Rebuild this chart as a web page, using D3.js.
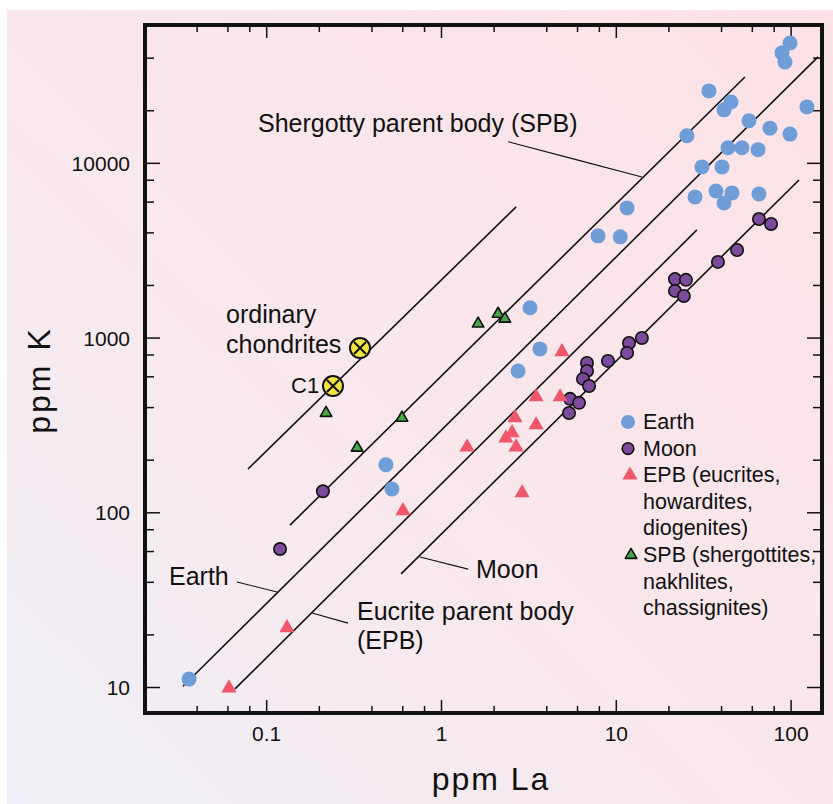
<!DOCTYPE html>
<html>
<head>
<meta charset="utf-8">
<script src="https://cdn.jsdelivr.net/npm/d3@7/dist/d3.min.js"></script>
<style>
  html, body { margin: 0; padding: 0; background: #ffffff; }
  svg { display: block; }
  text { font-family: "Liberation Sans", Arial, Helvetica, sans-serif; fill: #111; }
</style>
</head>
<body>
<svg id="chart" width="833" height="804"></svg>
<script>
// K versus La abundances (ppm) for planetary materials, log–log.

// Axis ticks
const xMajorTicks = [0.1, 1, 10, 100];
const xMajorLabels = ["0.1", "1", "10", "100"];
const xMinorTicks = [0.04, 0.06, 0.08, 0.2, 0.4, 0.6, 0.8, 2, 4, 6, 8, 20, 40, 60, 80];
const yMajorTicks = [10, 100, 1000, 10000];
const yMajorLabels = ["10", "100", "1000", "10000"];
const yMinorTicks = [20, 40, 60, 80, 200, 400, 600, 800, 2000, 4000, 6000, 8000, 20000, 40000];

// [La, K] pairs
const earth = [
  [99.2, 48500], [89.3, 42600], [92.9, 37800], [34.1, 25800], [45.6, 22300],
  [41.6, 20100], [124, 20900], [25.5, 14300], [57.8, 17400], [76.2, 15800],
  [99.2, 14600], [43.8, 12200], [52.7, 12200], [65.1, 11900], [31.1, 9480],
  [40.5, 9480], [28.4, 6380], [37.4, 6900], [46.2, 6730], [41.6, 5890],
  [65.9, 6640], [11.6, 5520], [7.91, 3820], [10.6, 3770], [3.23, 1480],
  [3.68, 861], [2.76, 644], [0.484, 187], [0.524, 136], [0.0362, 11.1]
];
const moon = [
  [65.9, 4770], [77.3, 4470], [49.4, 3170], [38.4, 2710], [21.8, 2160],
  [25.2, 2140], [21.8, 1850], [24.5, 1730], [14.1, 995], [11.9, 931],
  [11.6, 817], [9.02, 735], [6.84, 716], [6.84, 644], [6.49, 580],
  [7.03, 528], [5.47, 446], [6.16, 423], [5.40, 370], [0.211, 132], [0.120, 61.6]
];
const epb = [
  [4.92, 828], [3.50, 457], [4.80, 457], [2.65, 347], [3.50, 316],
  [2.55, 285], [2.35, 266], [2.69, 236], [1.41, 236], [2.91, 129],
  [0.606, 102], [0.1315, 21.8], [0.0612, 9.87]
];
const spb = [
  [1.63, 1200], [2.12, 1365], [2.32, 1280], [0.22, 370], [0.598, 347], [0.331, 234]
];
const chondrites = [[0.344, 871], [0.241, 528]];

// Constant K/La trend lines, end points as [La, K]
const chondriteLine = [[0.0787, 177], [2.69, 5600]];
const spbLine = [[0.1368, 84.5], [54.8, 31000]];
const earthLine = [[0.0334, 10.1], [143.5, 40400]];
const epbLine = [[0.0663, 9.75], [29.1, 4130]];
const moonLine = [[0.591, 44.4], [111.7, 7980]];

// Label leader lines, as [La, K]
const spbLeader = [[2.42, 13200], [6.0, 10400], [14.1, 8300]];
const earthLeader = [[0.068, 39.9], [0.1153, 35.0]];
const epbLeader = [[0.183, 26.5], [0.294, 23.2]];
const moonLeader = [[0.758, 55.5], [1.43, 47.3]];

const frame = { left: 145, right: 822, top: 25, bottom: 713 };

const svg = d3.select("#chart");

// Soft pink page background
const defs = svg.append("defs");
const grad = defs.append("linearGradient")
  .attr("id", "bg").attr("x1", "1").attr("y1", "0").attr("x2", "0").attr("y2", "1");
grad.append("stop").attr("offset", "0").attr("stop-color", "#fde2e7");
grad.append("stop").attr("offset", "0.55").attr("stop-color", "#f9e8ed");
grad.append("stop").attr("offset", "1").attr("stop-color", "#eff0f7");
svg.append("rect").attr("x", 7).attr("y", 10).attr("width", 826).attr("height", 794)
  .attr("fill", "url(#bg)");

const x = d3.scaleLog().domain([0.02026, 151.2]).range([frame.left, frame.right]);
const y = d3.scaleLog().domain([7.1, 61500]).range([frame.bottom, frame.top]);

const C = {
  earth: "#6e9dd7",
  moon: "#7b4a9b",
  epb: "#f0576b",
  spb: "#45aa45",
  chond: "#f2e43c",
  ink: "#111111"
};

// Ticks on all four sides, pointing inward
function ticks(axisFn, values, size, transform, labels) {
  const a = axisFn.tickValues(values).tickSize(size).tickSizeOuter(0)
    .tickFormat(labels ? (d, i) => labels[i] : "");
  const g = svg.append("g").attr("transform", transform).call(a);
  g.select(".domain").remove();
  g.selectAll(".tick line").attr("stroke", C.ink).attr("stroke-width", 1.5);
  return g;
}
ticks(d3.axisBottom(x), xMinorTicks, -7, `translate(0,${frame.bottom})`);
const xb = ticks(d3.axisBottom(x), xMajorTicks, -13, `translate(0,${frame.bottom})`, xMajorLabels);
xb.selectAll(".tick text").attr("y", 13).attr("dy", "0.71em")
  .style("font-size", "21px").style("font-family", '"Liberation Sans", Arial, sans-serif').attr("fill", C.ink);
ticks(d3.axisTop(x), xMinorTicks, -7, `translate(0,${frame.top})`);
ticks(d3.axisTop(x), xMajorTicks, -13, `translate(0,${frame.top})`);

ticks(d3.axisLeft(y), yMinorTicks, -9, `translate(${frame.left},0)`);
const yl = ticks(d3.axisLeft(y), yMajorTicks, -15, `translate(${frame.left},0)`, yMajorLabels);
yl.selectAll(".tick text").attr("x", -15).attr("dy", "0.36em")
  .style("font-size", "21px").style("font-family", '"Liberation Sans", Arial, sans-serif').attr("fill", C.ink);
ticks(d3.axisRight(y), yMinorTicks, -9, `translate(${frame.right},0)`);
ticks(d3.axisRight(y), yMajorTicks, -15, `translate(${frame.right},0)`);

// Trend lines
const line = d3.line().x(d => x(d[0])).y(d => y(d[1]));
const plot = svg.append("g");
[chondriteLine, spbLine, earthLine, epbLine, moonLine].forEach(l => {
  plot.append("path").attr("d", line(l)).attr("fill", "none")
    .attr("stroke", C.ink).attr("stroke-width", 1.6);
});
[spbLeader, earthLeader, epbLeader, moonLeader].forEach(l => {
  plot.append("path").attr("d", line(l)).attr("fill", "none")
    .attr("stroke", C.ink).attr("stroke-width", 1.1);
});

// Points
plot.selectAll(".earth").data(earth).join("circle")
  .attr("cx", d => x(d[0])).attr("cy", d => y(d[1])).attr("r", 7.5)
  .attr("fill", C.earth);
plot.selectAll(".moon").data(moon).join("circle")
  .attr("cx", d => x(d[0])).attr("cy", d => y(d[1])).attr("r", 6.2)
  .attr("fill", C.moon).attr("stroke", C.ink).attr("stroke-width", 1.6);

const triBig = d3.symbol(d3.symbolTriangle).size(100);
const triSmall = d3.symbol(d3.symbolTriangle).size(58);
plot.selectAll(".epb").data(epb).join("path")
  .attr("transform", d => `translate(${x(d[0])},${y(d[1])})`)
  .attr("d", triBig).attr("fill", C.epb);
plot.selectAll(".spb").data(spb).join("path")
  .attr("transform", d => `translate(${x(d[0])},${y(d[1])})`)
  .attr("d", triSmall).attr("fill", C.spb).attr("stroke", C.ink).attr("stroke-width", 1.6)
  .attr("stroke-linejoin", "round");

const ch = plot.selectAll(".chond").data(chondrites).join("g")
  .attr("transform", d => `translate(${x(d[0])},${y(d[1])})`);
ch.append("circle").attr("r", 10).attr("fill", C.chond)
  .attr("stroke", C.ink).attr("stroke-width", 2);
ch.append("path").attr("d", "M-6,-6L6,6M-6,6L6,-6")
  .attr("stroke", C.ink).attr("stroke-width", 2);

// Frame
svg.append("rect")
  .attr("x", frame.left).attr("y", frame.top)
  .attr("width", frame.right - frame.left).attr("height", frame.bottom - frame.top)
  .attr("fill", "none").attr("stroke", C.ink).attr("stroke-width", 4);

// Annotations
const ann = svg.append("g").style("font-size", "25px");
function label(txt, px, py, size) {
  const t = ann.append("text").attr("x", px).attr("y", py).text(txt);
  if (size) t.style("font-size", size + "px");
  return t;
}
label("Shergotty parent body (SPB)", 258, 132);
label("ordinary", 226, 323);
label("chondrites", 226, 353);
label("C1", 291, 393, 22);
label("Earth", 169, 585);
label("Eucrite parent body", 357, 620);
label("(EPB)", 357, 649);
label("Moon", 476, 578);

// Legend
const lg = svg.append("g").style("font-size", "21.5px");
const legendRows = [
  { kind: "earth", lines: ["Earth"] },
  { kind: "moon", lines: ["Moon"] },
  { kind: "epb", lines: ["EPB (eucrites,", "howardites,", "diogenites)"] },
  { kind: "spb", lines: ["SPB (shergottites,", "nakhlites,", "chassignites)"] }
];
let ly = 429;
const step = 26.6;
legendRows.forEach(r => {
  const cy = ly - 7;
  if (r.kind === "earth") lg.append("circle").attr("cx", 628).attr("cy", cy).attr("r", 7).attr("fill", C.earth);
  if (r.kind === "moon") lg.append("circle").attr("cx", 628).attr("cy", cy).attr("r", 5.8)
    .attr("fill", C.moon).attr("stroke", C.ink).attr("stroke-width", 1.6);
  if (r.kind === "epb") lg.append("path").attr("transform", `translate(630,${cy})`).attr("d", triBig).attr("fill", C.epb);
  if (r.kind === "spb") lg.append("path").attr("transform", `translate(631,${cy})`).attr("d", triSmall)
    .attr("fill", C.spb).attr("stroke", C.ink).attr("stroke-width", 1.6).attr("stroke-linejoin", "round");
  r.lines.forEach((t, i) => {
    lg.append("text").attr("x", 643).attr("y", ly + i * step).text(t);
  });
  ly += r.lines.length * step;
});

// Axis titles
svg.append("text").attr("x", 491).attr("y", 790).attr("text-anchor", "middle")
  .style("font-size", "32px").style("letter-spacing", "2px").text("ppm La");
svg.append("text").attr("transform", "translate(50,380) rotate(-90)").attr("text-anchor", "middle")
  .style("font-size", "32px").style("letter-spacing", "3px").text("ppm K");
</script>
</body>
</html>
